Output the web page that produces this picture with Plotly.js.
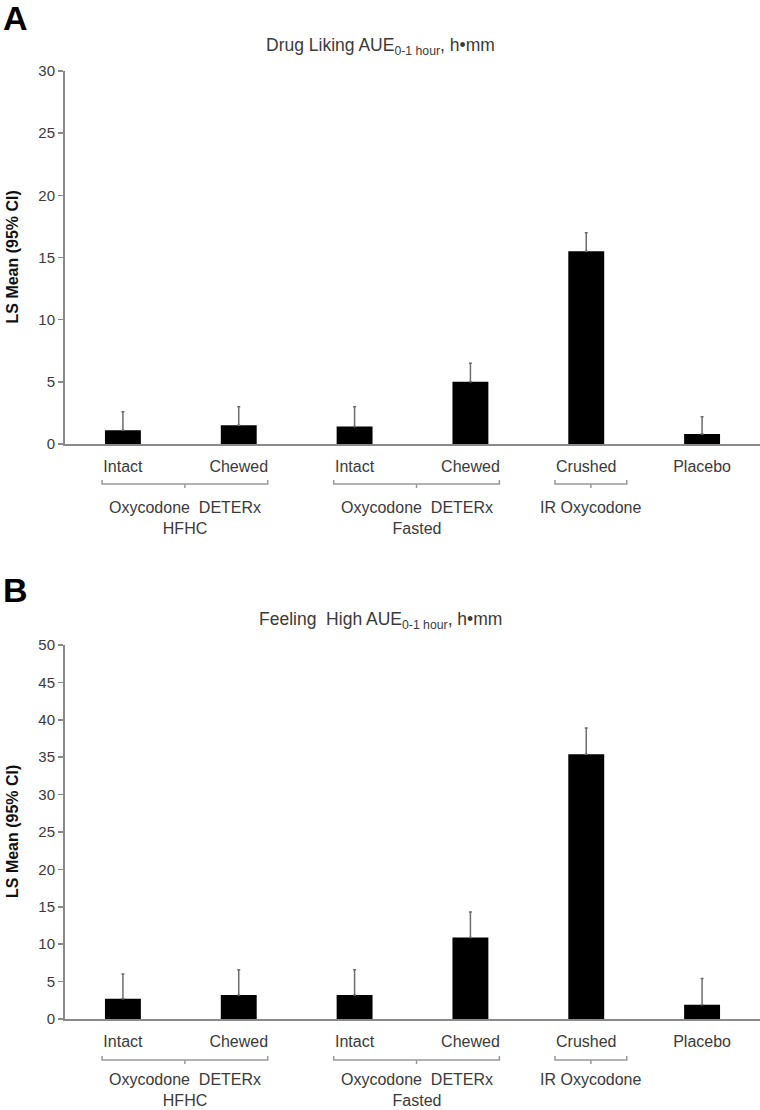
<!DOCTYPE html>
<html>
<head>
<meta charset="utf-8">
<script src="https://cdn.plot.ly/plotly-3.0.1.min.js"></script>
<style>
  html, body { margin: 0; padding: 0; background: #fff; }
  #chart { width: 760px; height: 1110px; }
</style>
</head>
<body>
<div id="chart"></div>
<script>
// Data
var categories = ["Intact", "Chewed", "Intact", "Chewed", "Crushed", "Placebo"];
var likingMean = [1.1, 1.5, 1.4, 5.0, 15.5, 0.8];
var likingUpper = [2.6, 3.0, 3.0, 6.5, 17.0, 2.2];
var highMean = [2.7, 3.2, 3.2, 10.9, 35.4, 1.9];
var highUpper = [6.0, 6.6, 6.6, 14.3, 38.9, 5.4];
var groupNames = ["Oxycodone  DETERx<br>HFHC", "Oxycodone  DETERx<br>Fasted", "IR Oxycodone"];
var groupFirst = [0, 2, 4];
var groupLast = [1, 3, 4];

var W = 760, H = 1110;
var FONT = "Liberation Sans, Arial, sans-serif";
var TXT = "#3a3a3a";
var AXIS = "#8a8a8a";

// helpers: pixel positions -> paper
function py(px) { return 1 - px / H; }
function pxx(px) { return px / W; }

var idx = categories.map(function(c, i) { return i; });

function barTrace(means, upper, xa, ya) {
  return {
    type: "bar",
    x: idx,
    y: means,
    xaxis: xa,
    yaxis: ya,
    width: 0.31,
    marker: { color: "#000", line: { width: 0 } },
    error_y: {
      type: "data",
      symmetric: false,
      array: upper.map(function(u, i) { return u - means[i]; }),
      arrayminus: means.map(function() { return 0; }),
      color: "#6e6e6e",
      thickness: 1.5,
      width: 1.5
    },
    hoverinfo: "y",
    showlegend: false
  };
}

var data = [
  barTrace(likingMean, likingUpper, "x", "y"),
  barTrace(highMean, highUpper, "x2", "y2")
];

function xAxis(anchor) {
  return {
    anchor: anchor,
    domain: [pxx(65), 1],
    range: [-0.5, 5.5],
    tickvals: idx,
    ticktext: categories,
    ticks: "",
    ticklabelstandoff: 7,
    showgrid: false,
    zeroline: false,
    showline: true,
    linecolor: AXIS,
    linewidth: 2,
    tickfont: { family: FONT, size: 16, color: TXT },
    fixedrange: true
  };
}

function yAxis(anchor, top, bottom, max) {
  return {
    anchor: anchor,
    domain: [py(bottom), py(top)],
    range: [0, max],
    dtick: 5,
    ticks: "outside",
    ticklen: 5,
    tickwidth: 1.5,
    tickcolor: AXIS,
    showgrid: false,
    zeroline: false,
    showline: true,
    linecolor: AXIS,
    linewidth: 2,
    tickfont: { family: FONT, size: 15, color: TXT },
    fixedrange: true
  };
}

var annotations = [];
var shapes = [];

function panel(xref, letter, letterY, title, titleY, axisTop, axisBottom, bracketY, groupY) {
  annotations.push({
    xref: "paper", yref: "paper", x: pxx(1), y: py(letterY), xanchor: "left", yanchor: "middle",
    text: "<b>" + letter + "</b>", showarrow: false,
    font: { family: FONT, size: 34, color: "#000" }
  });
  annotations.push({
    xref: "paper", yref: "paper", x: pxx(381), y: py(titleY), xanchor: "center", yanchor: "middle",
    text: title, showarrow: false,
    font: { family: FONT, size: 17.5, color: TXT }
  });
  annotations.push({
    xref: "paper", yref: "paper", x: pxx(12), y: py((axisTop + axisBottom) / 2),
    xanchor: "center", yanchor: "middle", textangle: -90,
    text: "<b>LS Mean (95% CI)</b>", showarrow: false,
    font: { family: FONT, size: 16, color: "#111" }
  });
  groupNames.forEach(function(name, g) {
    var x0 = groupFirst[g] - 0.18;
    var x1 = groupLast[g] + 0.25;
    if (groupFirst[g] === groupLast[g]) { x0 = groupFirst[g] - 0.27; x1 = groupLast[g] + 0.35; }
    var xc = (x0 + x1) / 2;
    shapes.push({
      type: "path", xref: xref, yref: "paper",
      path: "M" + x0 + "," + py(bracketY - 4) + " L" + x0 + "," + py(bracketY) +
            " L" + x1 + "," + py(bracketY) + " L" + x1 + "," + py(bracketY - 4),
      line: { color: "#9a9a9a", width: 1.5 }
    });
    shapes.push({
      type: "line", xref: xref, yref: "paper",
      x0: xc, x1: xc, y0: py(bracketY), y1: py(bracketY + 4),
      line: { color: "#9a9a9a", width: 1.5 }
    });
    annotations.push({
      xref: xref, yref: "paper", x: xc, y: py(groupY), xanchor: "center", yanchor: "top",
      text: name, showarrow: false, align: "center",
      font: { family: FONT, size: 16, color: TXT }
    });
  });
}

function sub(s) { return "<sub><span style=\"color:" + TXT + "\">" + s + "</span></sub>"; }

panel("x", "A", 18, "Drug Liking AUE" + sub("0-1 hour") + ", h\u2022mm", 46, 71, 444, 484, 497);
panel("x2", "B", 590, "Feeling  High AUE" + sub("0-1 hour") + ", h\u2022mm", 620, 645, 1019, 1060, 1069);

var layout = {
  width: W,
  height: H,
  margin: { l: 0, r: 0, t: 0, b: 0 },
  paper_bgcolor: "#fff",
  plot_bgcolor: "#fff",
  showlegend: false,
  xaxis: xAxis("y"),
  yaxis: yAxis("x", 71, 444, 30),
  xaxis2: xAxis("y2"),
  yaxis2: yAxis("x2", 645, 1019, 50),
  annotations: annotations,
  shapes: shapes
};

Plotly.newPlot("chart", data, layout, { displayModeBar: false, staticPlot: true });
</script>
</body>
</html>
